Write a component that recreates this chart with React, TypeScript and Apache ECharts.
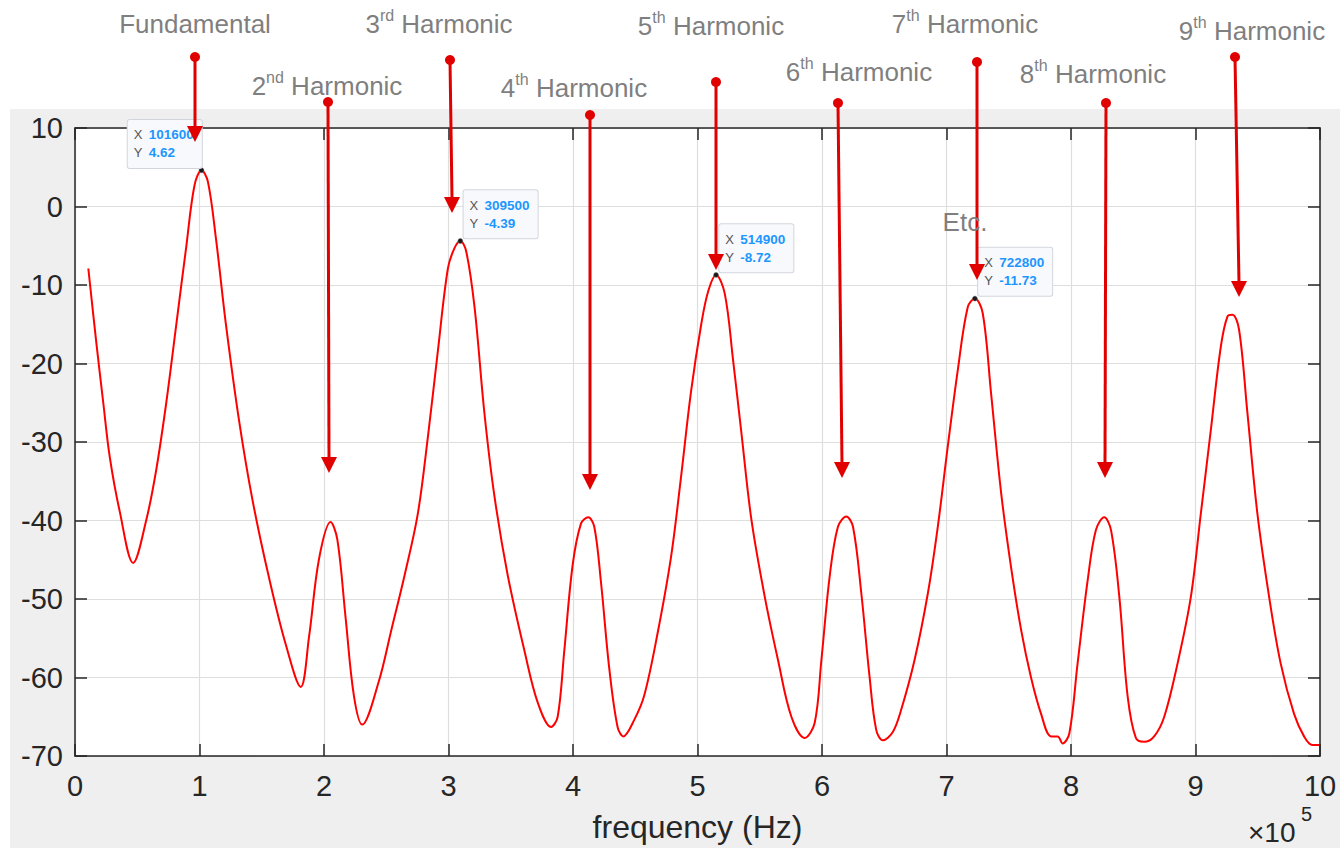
import React, { useEffect, useRef } from "react";
import * as echarts from "echarts";

// ---------- data (frequency in units of 1e5 Hz, level in dB) ----------
const freqE5 = [
  0.107, 0.173, 0.227, 0.28, 0.36, 0.467, 0.573, 0.653, 0.733, 0.813, 0.893, 0.96,
  1.016, 1.067, 1.133, 1.213, 1.32, 1.427, 1.56, 1.693, 1.813, 1.88, 1.96, 2.053,
  2.107, 2.173, 2.24, 2.307, 2.44, 2.54, 2.647, 2.754, 2.834, 2.914, 2.995, 3.048,
  3.095, 3.142, 3.209, 3.289, 3.369, 3.476, 3.61, 3.717, 3.824, 3.877, 3.93, 3.997,
  4.064, 4.123, 4.171, 4.225, 4.291, 4.358, 4.404, 4.492, 4.572, 4.679, 4.786, 4.866,
  4.947, 5.03, 5.086, 5.149, 5.219, 5.286, 5.353, 5.433, 5.54, 5.647, 5.754, 5.861,
  5.941, 5.995, 6.061, 6.128, 6.195, 6.249, 6.316, 6.382, 6.436, 6.489, 6.57, 6.636,
  6.743, 6.85, 6.93, 7.01, 7.091, 7.171, 7.228, 7.291, 7.358, 7.439, 7.519, 7.6,
  7.679, 7.759, 7.84, 7.893, 7.933, 7.987, 8.053, 8.134, 8.2, 8.267, 8.321, 8.388,
  8.455, 8.521, 8.588, 8.668, 8.749, 8.856, 8.963, 9.043, 9.123, 9.203, 9.257, 9.297,
  9.35, 9.417, 9.497, 9.591, 9.684, 9.791, 9.872, 9.939, 9.992,
];
const levelDb = [
  -7.9, -17.6, -25, -32, -38.9, -45.4, -39.9, -33.5, -25, -15.1, -5.2, 2.7,
  4.62, 3.2, -4.2, -15.1, -27.5, -37.5, -47.4, -55.8, -61.2, -54.8, -44.9, -40.2,
  -42.4, -52.3, -62.3, -66, -60.5, -54, -47, -39.1, -29.4, -18.5, -7.9, -5.3,
  -4.39, -5.7, -12.8, -26.4, -36.9, -47, -56.6, -63.2, -66.3, -65, -56.6, -45.7,
  -40.4, -39.6, -40.8, -47.9, -58.8, -66.3, -67.5, -65.4, -62.3, -54.4, -44.8, -34.7,
  -23.7, -15, -10.8, -8.72, -11.1, -19.6, -28.9, -39.9, -49.7, -57.8, -65, -67.7,
  -65.8, -57.8, -47.2, -40.8, -39.5, -40.8, -49.3, -59.9, -66.7, -68, -66.9, -64.1,
  -57.8, -49.3, -40.8, -30.6, -20.8, -12.8, -11.73, -13.6, -23.8, -36.5, -46, -54,
  -60, -64.6, -67.5, -67.5, -68.4, -67.1, -58.2, -47.6, -41.2, -39.6, -41.2, -49.7,
  -62.4, -67.7, -68.2, -67.5, -65, -58.2, -49.7, -39.1, -28.5, -17.9, -14, -13.8,
  -15.7, -26.3, -39.1, -49.7, -58.2, -64.6, -67.5, -68.6, -68.6,
];

// data tips
const tipFreqHz = [101600, 309500, 514900, 722800];
const tipLevelDb = [4.62, -4.39, -8.72, -11.73];
const tipSide = ["left", "right", "right", "right"];

// harmonic annotations (text)
const harmonicOrdinal = ["", "2", "3", "4", "5", "6", "7", "8", "9"];
const harmonicSuffix = ["", "nd", "rd", "th", "th", "th", "th", "th", "th"];
const harmonicWord = ["Fundamental", "Harmonic", "Harmonic", "Harmonic", "Harmonic", "Harmonic", "Harmonic", "Harmonic", "Harmonic"];
const etcText = "Etc.";
const xAxisName = "frequency (Hz)";
const xExponentBase = "\u00d710";
const xExponent = "5";

// ---------- layout of annotation layer (pixels) ----------
const labelX = [195, 327, 439, 574, 711, 859, 965, 1093, 1252];
const labelY = [22, 84, 22, 86, 24, 70, 22, 72, 29];
const arrowTop = [[195, 57], [328, 102], [450, 60], [590, 115], [716, 82], [838, 103], [977, 62], [1106, 103], [1235, 57]];
const arrowTip = [[195, 142], [329, 473], [452, 213], [590, 490], [716, 270], [842, 478], [977, 280], [1105, 478], [1239, 297]];

const FONT = "'Liberation Sans', Arial, Helvetica, sans-serif";
const AXIS_COLOR = "#262626";
const ANNO_RED = "#e00000";
const ANNO_GREY = "#7f7f7f";

export default function App() {
  const ref = useRef<HTMLDivElement>(null);

  useEffect(() => {
    if (!ref.current) return;
    const chart = echarts.init(ref.current, null, { renderer: "svg" });

    const graphics: any[] = [];
    for (let i = 0; i < harmonicWord.length; i++) {
      const text = i === 0
        ? `{n|${harmonicWord[i]}}`
        : `{n|${harmonicOrdinal[i]}}{s|${harmonicSuffix[i]}}{n| ${harmonicWord[i]}}`;
      graphics.push({
        type: "text",
        x: labelX[i],
        y: labelY[i],
        z: 100,
        silent: true,
        style: {
          text,
          align: "center",
          verticalAlign: "middle",
          fill: ANNO_GREY,
          fontSize: 26,
          fontFamily: FONT,
          rich: {
            n: { fontSize: 26, fontFamily: FONT, fill: ANNO_GREY, lineHeight: 30, verticalAlign: "bottom" },
            s: { fontSize: 16, fontFamily: FONT, fill: ANNO_GREY, lineHeight: 16, verticalAlign: "top" },
          },
        },
      });
      const [x0, y0] = arrowTop[i];
      const [x1, y1] = arrowTip[i];
      graphics.push({
        type: "line",
        z: 100,
        silent: true,
        shape: { x1: x0, y1: y0, x2: x1, y2: y1 - 14 },
        style: { stroke: ANNO_RED, lineWidth: 3 },
      });
      graphics.push({
        type: "circle",
        z: 100,
        silent: true,
        shape: { cx: x0, cy: y0, r: 5 },
        style: { fill: ANNO_RED },
      });
      graphics.push({
        type: "polygon",
        z: 100,
        silent: true,
        shape: { points: [[x1 - 8, y1 - 16], [x1 + 8, y1 - 16], [x1, y1]] },
        style: { fill: ANNO_RED },
      });
    }
    graphics.push({
      type: "text",
      x: 965,
      y: 222,
      z: 100,
      silent: true,
      style: { text: etcText, align: "center", verticalAlign: "middle", fill: ANNO_GREY, fontSize: 26, fontFamily: FONT },
    });
    graphics.push({
      type: "text",
      x: 1248,
      y: 832,
      z: 100,
      silent: true,
      style: { text: xExponentBase, align: "left", verticalAlign: "middle", fill: AXIS_COLOR, fontSize: 28, fontFamily: FONT },
    });
    graphics.push({
      type: "text",
      x: 1301,
      y: 814,
      z: 100,
      silent: true,
      style: { text: xExponent, align: "left", verticalAlign: "middle", fill: AXIS_COLOR, fontSize: 20, fontFamily: FONT },
    });

    const tipData = tipFreqHz.map((hz, i) => {
      const left = tipSide[i] === "left";
      return {
        coord: [hz / 1e5, tipLevelDb[i]],
        symbol: "circle",
        symbolSize: 5,
        itemStyle: { color: "#1a1a1a", borderColor: "#777", borderWidth: 0.5 },
        label: {
          show: true,
          formatter: `{k|X}{v|${hz}}\n{k|Y}{v|${tipLevelDb[i].toFixed(2)}}`,
          position: left ? [-71, 0.5] : [6, 0],
          align: "left",
          verticalAlign: "bottom",
          backgroundColor: "#f7f9fd",
          borderColor: "#d2d6dc",
          borderWidth: 1,
          borderRadius: 2,
          padding: [6, 8, 6, 6],
          rich: {
            k: { fontSize: 13, color: "#555555", fontFamily: FONT, lineHeight: 18, width: 15 },
            v: { fontSize: 13.5, color: "#1e96ff", fontWeight: "bold", fontFamily: FONT, lineHeight: 18 },
          },
        },
      };
    });

    const axisLine = { show: true, onZero: false, lineStyle: { color: AXIS_COLOR, width: 1.5 } };
    const axisTick = { show: true, inside: true, length: 12, lineStyle: { color: AXIS_COLOR, width: 1.5 } };

    chart.setOption({
      animation: false,
      backgroundColor: "transparent",
      grid: {
        left: 75,
        top: 128,
        right: 20,
        bottom: 92,
        show: true,
        backgroundColor: "#ffffff",
        borderColor: AXIS_COLOR,
        borderWidth: 0,
      },
      xAxis: [
        {
          type: "value",
          min: 0,
          max: 10,
          interval: 1,
          position: "bottom",
          axisLine,
          axisTick,
          axisLabel: { fontSize: 29, color: AXIS_COLOR, fontFamily: FONT, margin: 15 },
          splitLine: { show: true, lineStyle: { color: "#dedede", width: 1.2 } },
          name: xAxisName,
          nameLocation: "middle",
          nameGap: 55,
          nameTextStyle: { fontSize: 32, color: AXIS_COLOR, fontFamily: FONT },
        },
        {
          type: "value",
          min: 0,
          max: 10,
          interval: 1,
          position: "top",
          axisLine,
          axisTick,
          axisLabel: { show: false },
          splitLine: { show: false },
        },
      ],
      yAxis: [
        {
          type: "value",
          min: -70,
          max: 10,
          interval: 10,
          position: "left",
          axisLine,
          axisTick,
          axisLabel: { fontSize: 29, color: AXIS_COLOR, fontFamily: FONT, margin: 12 },
          splitLine: { show: true, lineStyle: { color: "#dedede", width: 1.2 } },
        },
        {
          type: "value",
          min: -70,
          max: 10,
          interval: 10,
          position: "right",
          axisLine,
          axisTick,
          axisLabel: { show: false },
          splitLine: { show: false },
        },
      ],
      series: [
        {
          type: "line",
          xAxisIndex: 0,
          yAxisIndex: 0,
          data: freqE5.map((f, i) => [f, levelDb[i]]),
          showSymbol: false,
          smooth: 0.35,
          lineStyle: { color: "#ff0000", width: 2 },
          markPoint: { data: tipData, z: 5 },
          z: 3,
        },
      ],
      graphic: graphics,
    });

    return () => chart.dispose();
  }, []);

  return (
    <div style={{ position: "absolute", left: 0, top: 0, width: 1340, height: 848, background: "#ffffff" }}>
      <div style={{ position: "absolute", left: 10, top: 109, right: 0, bottom: 0, background: "#efefef" }} />
      <div ref={ref} style={{ position: "absolute", left: 0, top: 0, width: 1340, height: 848 }} />
    </div>
  );
}
